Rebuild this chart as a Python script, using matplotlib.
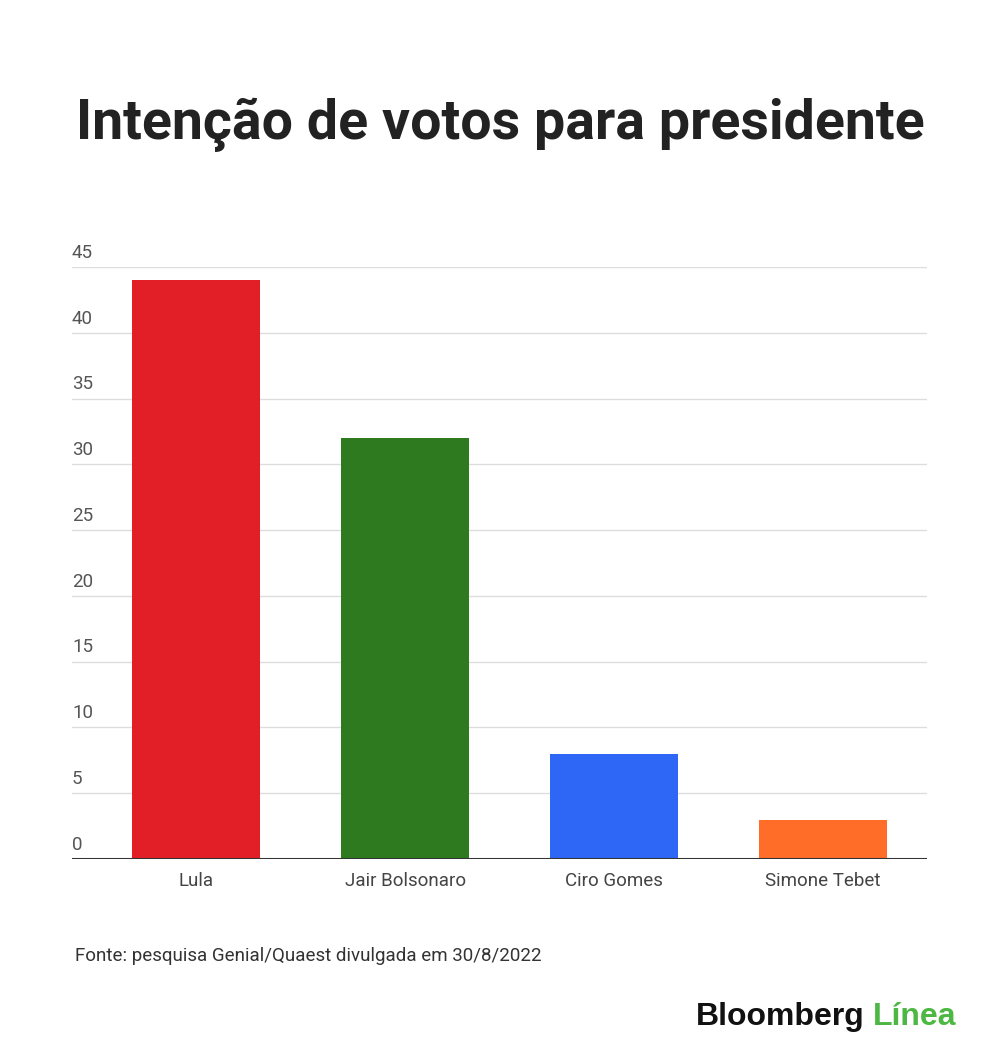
import matplotlib.pyplot as plt
from matplotlib.transforms import blended_transform_factory

candidates = ["Lula", "Jair Bolsonaro", "Ciro Gomes", "Simone Tebet"]
votes = [44, 32, 8, 3]
bar_colors = ["#e21f26", "#2e7a1e", "#2e66f5", "#ff6d28"]
y_ticks = [0, 5, 10, 15, 20, 25, 30, 35, 40, 45]

title = "Intenção de votos para presidente"
source = "Fonte: pesquisa Genial/Quaest divulgada em 30/8/2022"

plt.rcParams["font.family"] = ["Roboto", "DejaVu Sans"]

W, H = 1000, 1060
fig = plt.figure(figsize=(W / 100, H / 100), dpi=100)

# axes spans the gridline extent (72..927 px), bars start at 92 px
left, right = 72, 927
top, bottom = 267, 859
ax = fig.add_axes([left / W, 1 - bottom / H, (right - left) / W, (bottom - top) / H])

slot = (927 - 92) / 4
ax.set_xlim(-0.5 - 20 / slot, 3.5)
ax.set_ylim(0, 45)

ax.bar(range(len(candidates)), votes, width=128 / slot, color=bar_colors, zorder=2)

for v in y_ticks[1:]:
    ax.axhline(v, color="#dddddd", lw=1, zorder=1)
ax.axhline(0, color="#333333", lw=2.2, zorder=3)

for s in ax.spines.values():
    s.set_visible(False)
ax.set_yticks([])
ax.set_xticks(range(len(candidates)))
ax.set_xticklabels(candidates, fontsize=13.5, color="#444444")
ax.tick_params(axis="x", length=0, pad=9)

trans = blended_transform_factory(ax.transAxes, ax.transData)
for v in y_ticks:
    ax.text(0, v + 0.4, str(v), transform=trans, ha="left", va="bottom",
            fontsize=13.5, color="#555555")

fig.text(500 / W, 1 - 125 / H, title, ha="center", va="center",
         fontsize=40, fontweight="bold", color="#222222")

fig.text(75 / W, 1 - 956 / H, source, ha="left", va="center",
         fontsize=13.5, color="#333333")

# logo
fig.text(865 / W, 1 - 1017 / H, "Bloomberg", ha="right", va="center",
         fontsize=23, fontweight="bold", color="#111111",
         family=["Liberation Sans", "DejaVu Sans"])
fig.text(873 / W, 1 - 1017 / H, "Línea", ha="left", va="center",
         fontsize=23, fontweight="bold", color="#4cb843",
         family=["Liberation Sans", "DejaVu Sans"])

fig.savefig("out.png", dpi=100, facecolor="white")
